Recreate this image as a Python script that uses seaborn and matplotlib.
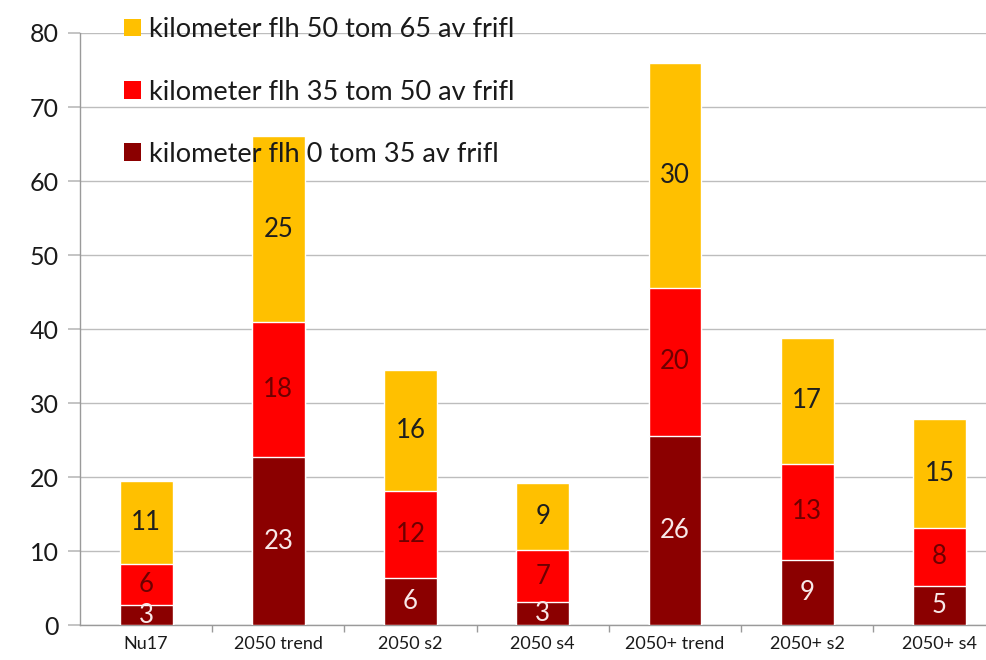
import matplotlib
matplotlib.use("Agg")
import matplotlib.pyplot as plt
import seaborn as sns
import pandas as pd
import numpy as np
from matplotlib.patches import Patch

categories = ["Nu17", "2050 trend", "2050 s2", "2050 s4", "2050+ trend", "2050+ s2", "2050+ s4"]
km_0_35 = [2.7, 22.7, 6.4, 3.1, 25.6, 8.8, 5.3]
km_35_50 = [5.6, 18.2, 11.7, 7.0, 20.0, 13.0, 7.8]
km_50_65 = [11.2, 25.2, 16.4, 9.1, 30.4, 17.0, 14.7]
series_names = ["kilometer flh 0 tom 35 av frifl",
                "kilometer flh 35 tom 50 av frifl",
                "kilometer flh 50 tom 65 av frifl"]
colors = ["#8B0000", "#FF0000", "#FFC000"]
label_colors = ["#F8E8E8", "#6E0000", "#1E1E1E"]

sns.set_theme(style="white")
plt.rcParams["font.family"] = ["Lato", "DejaVu Sans"]

df = pd.DataFrame({"cat": categories, "a": km_0_35, "b": km_35_50, "c": km_50_65})
df["cum1"] = df["a"]
df["cum2"] = df["a"] + df["b"]
df["cum3"] = df["cum2"] + df["c"]

fig = plt.figure(figsize=(9.87, 6.6), dpi=100)
ax = fig.add_axes([0.081, 0.053, 0.919, 0.897])

width = 0.40
# draw back-to-front cumulative bars
sns.barplot(data=df, x="cat", y="cum3", color=colors[2], width=width, ax=ax,
            saturation=1, zorder=3)
sns.barplot(data=df, x="cat", y="cum2", color=colors[1], width=width, ax=ax,
            saturation=1, zorder=3)
sns.barplot(data=df, x="cat", y="cum1", color=colors[0], width=width, ax=ax,
            saturation=1, zorder=3)

# segment labels
bottoms = [np.zeros(len(df)), df["cum1"].values, df["cum2"].values]
vals = [df["a"].values, df["b"].values, df["c"].values]
for s in range(3):
    for i in range(len(df)):
        ax.text(i, bottoms[s][i] + vals[s][i] / 2, f"{round(vals[s][i]):d}",
                ha="center", va="center", fontsize=18.5, color=label_colors[s], zorder=5)

ax.set_ylim(0, 80)
ax.set_xlim(-0.5, 6.36)
ax.set_yticks(range(0, 81, 10))
ax.set_xlabel("")
ax.set_ylabel("")
ax.grid(axis="y", color="#BDBDBD", linewidth=1.0, zorder=0)
ax.set_axisbelow(True)
for side in ["top", "right"]:
    ax.spines[side].set_visible(False)
for side in ["left", "bottom"]:
    ax.spines[side].set_color("#9A9A9A")
    ax.spines[side].set_linewidth(1.0)

ax.tick_params(axis="y", which="major", length=9, color="#BDBDBD", labelsize=18,
               labelcolor="#1A1A1A", left=True, pad=6)
ax.tick_params(axis="x", which="major", length=0, labelsize=13, labelcolor="#1A1A1A", pad=8)
ax.set_xticks(np.arange(0.5, 6.0, 1.0), minor=True)
ax.tick_params(axis="x", which="minor", length=5, color="#9A9A9A", bottom=True)

if ax.get_legend() is not None:
    ax.get_legend().remove()

leg_handles = [Patch(facecolor=colors[2 - k], edgecolor="none") for k in range(3)]
leg = fig.legend(leg_handles, series_names[::-1], loc="upper left",
                 bbox_to_anchor=(0.115, 0.99), frameon=False, fontsize=19.5,
                 handlelength=0.6, handleheight=0.6, handletextpad=0.3,
                 labelspacing=1.37, borderaxespad=0)
for t in leg.get_texts():
    t.set_color("#1A1A1A")

fig.savefig("out.png", dpi=100)
